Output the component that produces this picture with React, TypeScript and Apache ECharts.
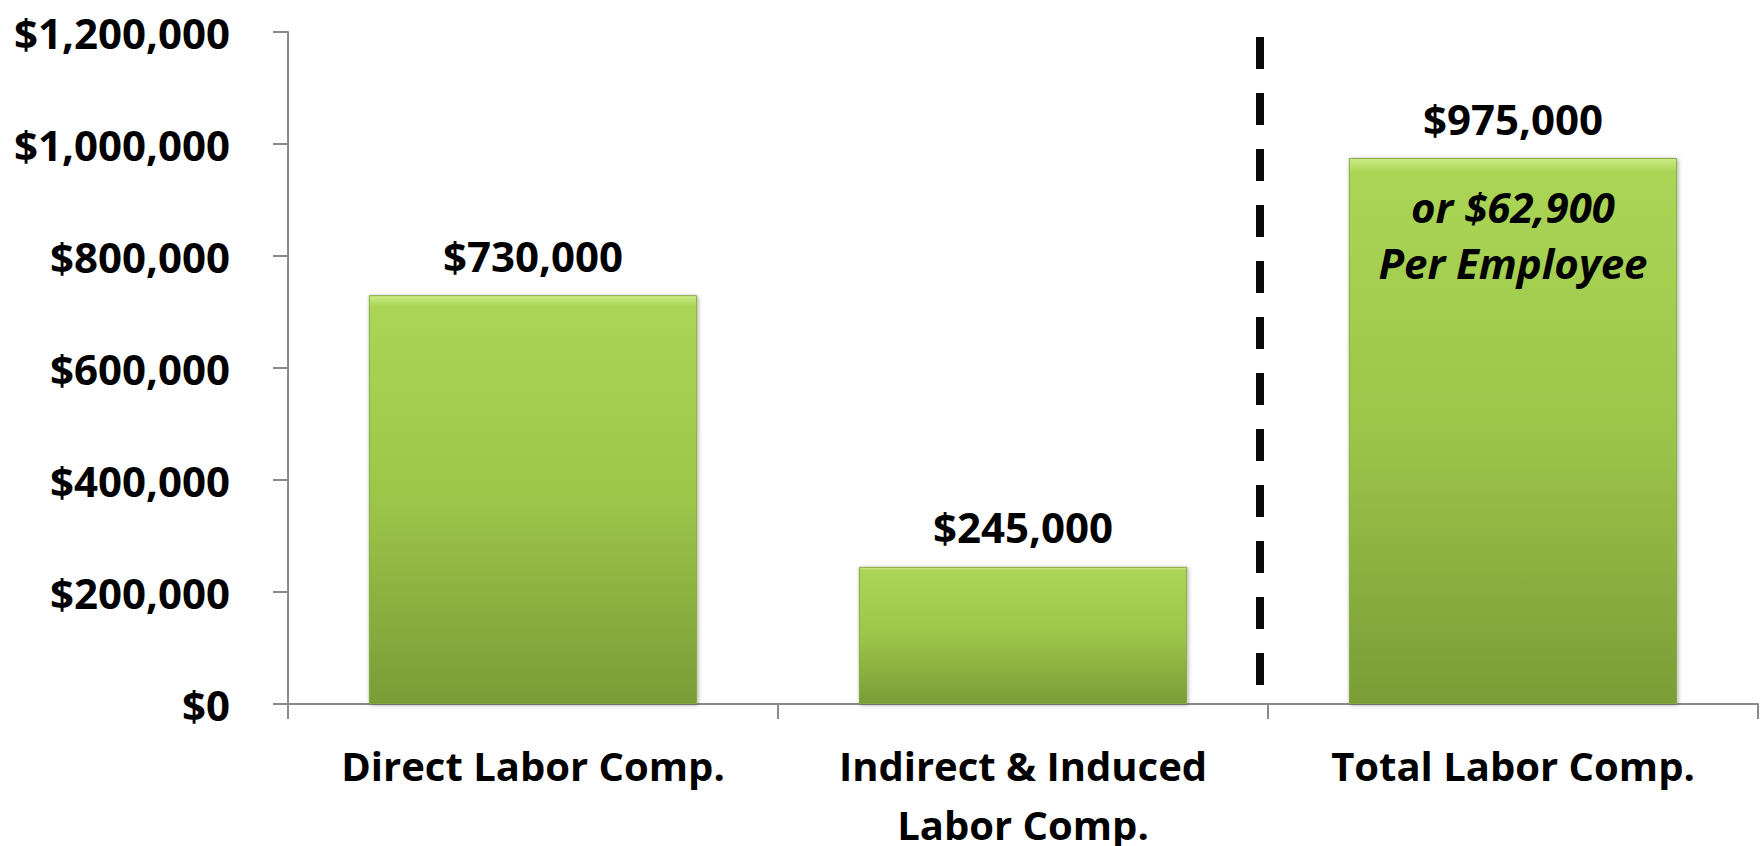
import React, { useEffect, useRef } from "react";
import * as echarts from "echarts";

const categories = ["Direct Labor Comp.", "Indirect & Induced\nLabor Comp.", "Total Labor Comp."];
const values = [730000, 245000, 975000];
const innerNotes = ["", "", "or $62,900\nPer Employee"];
const yMin = 0;
const yMax = 1200000;
const yInterval = 200000;
const dividerValueRange = [34000, 1191000];

const FONT = "'Open Sans', 'Noto Sans', sans-serif";

const money = (v: number) => "$" + Math.round(v).toLocaleString("en-US");

export default function App() {
  const ref = useRef<HTMLDivElement>(null);

  useEffect(() => {
    if (!ref.current) return;
    const chart = echarts.init(ref.current, undefined, { renderer: "svg" });
    const barGradient = new echarts.graphic.LinearGradient(0, 0, 0, 1, [
      { offset: 0, color: "#cdec86" },
      { offset: 0.025, color: "#abd555" },
      { offset: 0.5, color: "#9cc649" },
      { offset: 1, color: "#7a9c37" },
    ]);
    chart.setOption({
      animation: false,
      backgroundColor: "#ffffff",
      grid: { left: 288, right: 6, top: 32, bottom: 142, containLabel: false, outerBoundsMode: "none" },
      xAxis: {
        type: "category",
        data: categories,
        boundaryGap: true,
        axisLine: { show: true, lineStyle: { color: "#8a8a8a", width: 2 } },
        axisTick: { show: true, length: 15, alignWithLabel: false, lineStyle: { color: "#8a8a8a", width: 2 } },
        axisLabel: {
          interval: 0,
          margin: 32,
          color: "#000",
          fontFamily: FONT,
          fontWeight: "bold",
          fontSize: 40,
          lineHeight: 59,
        },
        splitLine: { show: false },
      },
      yAxis: {
        type: "value",
        min: yMin,
        max: yMax,
        interval: yInterval,
        axisLine: { show: true, lineStyle: { color: "#8a8a8a", width: 2 } },
        axisTick: { show: true, length: 15, lineStyle: { color: "#8a8a8a", width: 2 } },
        axisLabel: {
          margin: 58,
          color: "#000",
          fontFamily: FONT,
          fontWeight: "bold",
          fontSize: 42,
          formatter: (v: number) => money(v),
        },
        splitLine: { show: false },
      },
      series: [
        {
          type: "bar",
          data: values,
          barWidth: "67%",
          itemStyle: {
            color: barGradient,
            borderColor: "#86a843",
            borderWidth: 1,
            shadowBlur: 4,
            shadowColor: "rgba(0,0,0,0.35)",
            shadowOffsetX: 1,
            shadowOffsetY: 1,
          },
          label: {
            show: true,
            position: "top",
            distance: 18,
            color: "#000",
            fontFamily: FONT,
            fontWeight: "bold",
            fontSize: 42,
            lineHeight: 44,
            formatter: (p: any) => money(p.value),
          },
          silent: true,
        },
        {
          type: "bar",
          data: values.map((v, i) => (innerNotes[i] ? v : "-")),
          barWidth: "67%",
          barGap: "-100%",
          itemStyle: { color: "rgba(0,0,0,0)" },
          label: {
            show: true,
            position: "insideTop",
            distance: 20,
            color: "#000",
            fontFamily: FONT,
            fontWeight: "bold",
            fontStyle: "italic",
            fontSize: 42,
            lineHeight: 56,
            formatter: (p: any) => innerNotes[p.dataIndex],
          },
          silent: true,
          z: 3,
        },
      ],
    });

    const xa = chart.convertToPixel({ xAxisIndex: 0 }, categories[1]) as number;
    const xb = chart.convertToPixel({ xAxisIndex: 0 }, categories[2]) as number;
    const yTop = chart.convertToPixel({ yAxisIndex: 0 }, dividerValueRange[1]) as number;
    const yBot = chart.convertToPixel({ yAxisIndex: 0 }, dividerValueRange[0]) as number;
    const xDiv = (xa + xb) / 2 - 8;
    chart.setOption({
      graphic: [
        {
          type: "line",
          shape: { x1: xDiv, y1: yTop, x2: xDiv, y2: yBot },
          style: { stroke: "#0a0a0a", lineWidth: 8, lineDash: [32, 24] },
          silent: true,
          z: 10,
        },
      ],
    });

    return () => chart.dispose();
  }, []);

  return (
    <div
      ref={ref}
      style={{ position: "fixed", left: 0, top: 0, width: "1764px", height: "846px", background: "#fff" }}
    />
  );
}
